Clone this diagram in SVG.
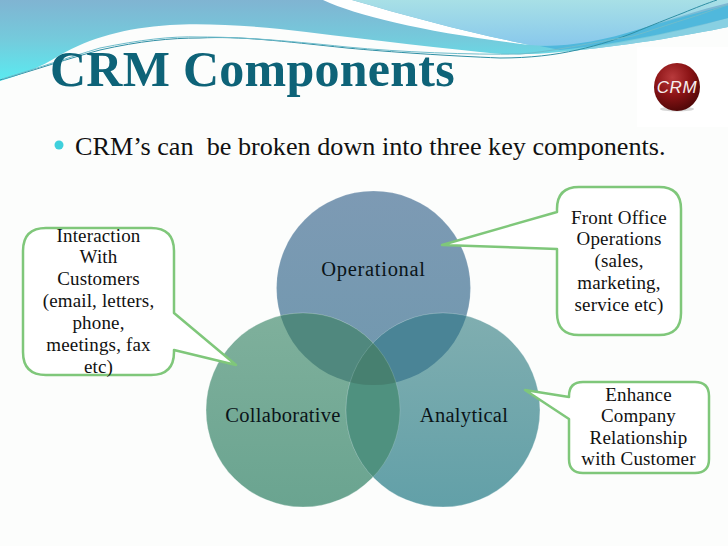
<svg xmlns="http://www.w3.org/2000/svg" width="728" height="546" viewBox="0 0 728 546">
<style>
.t{font-family:"Liberation Serif",serif}
.c{font-family:"Liberation Serif",serif;font-size:19px;fill:#111;text-anchor:middle;letter-spacing:.15px}
.l{font-size:20.5px;fill:#0a1418;letter-spacing:.3px}
.b{fill:#fff;stroke:#7fc77a;stroke-width:2.5;stroke-linejoin:round}
.o{fill:none;stroke:#fff;stroke-opacity:.15;stroke-width:1}
</style>
<defs>
<linearGradient id="w1" gradientUnits="userSpaceOnUse" x1="0" y1="0" x2="0" y2="80"><stop offset="0" stop-color="#80b4d2"/><stop offset=".5" stop-color="#74cbdc"/><stop offset="1" stop-color="#5aeaf0"/></linearGradient>
<linearGradient id="w2" gradientUnits="userSpaceOnUse" x1="560" y1="0" x2="560" y2="46"><stop offset="0" stop-color="#a8e0e6"/><stop offset="1" stop-color="#88c8ec"/></linearGradient>
<linearGradient id="o1" x1="0" y1="0" x2="0" y2="1"><stop offset="0" stop-color="#7d9ab4"/><stop offset="1" stop-color="#7098ae"/></linearGradient>
<linearGradient id="o2" x1="0" y1="0" x2="0" y2="1"><stop offset="0" stop-color="#7fb09c"/><stop offset="1" stop-color="#6aa490"/></linearGradient>
<linearGradient id="o3" x1="0" y1="0" x2="0" y2="1"><stop offset="0" stop-color="#80aeb0"/><stop offset="1" stop-color="#62a0a8"/></linearGradient>
<radialGradient id="ball" cx=".4" cy=".3" r=".75"><stop offset="0" stop-color="#b83a3c"/><stop offset=".5" stop-color="#8c1416"/><stop offset="1" stop-color="#4a0606"/></radialGradient>
<clipPath id="cOp"><circle cx="373.500" cy="288" r="97"/></clipPath>
<clipPath id="cCol"><circle cx="303" cy="410" r="97"/></clipPath>
</defs>
<rect width="728" height="546" fill="#fcfdfc"/>
<g id="header">
<path d="M0 0H728V27C690 35 620 47 560 52C530 55 505 55 480 52C420 46 350 37 280 29C240 25 200 23 170 25C125 28 90 38 60 55C40 68 20 75 0 81Z" fill="url(#w1)"/>
<path d="M560 52C620 47 690 35 728 27V18C680 32 620 44 560 52Z" fill="#88d0e2"/>
<path d="M540 46C590 45 650 25 728 5V18C670 33 610 45 560 50Z" fill="#50b8dc"/>
<path d="M323 0C360 17 430 33 530 45C470 33 410 17 352 0Z" fill="#fff"/>
<path d="M352 0C410 17 470 33 530 45C560 48 600 42 640 29C670 19 700 10 728 3V0Z" fill="url(#w2)"/>
<path d="M0 80C35 70 70 58 100 50C140 41 170 38 200 38C240 36 280 41 347 48C390 52 450 56 500 58C530 58 555 55 577 50C600 45 620 38 633 33C650 26 670 18 683 13C695 8 708 3 717 0" fill="none" stroke="#2f8fa4" stroke-width="1"/>
<path d="M2 79C35 69 70 57 100 48C140 40 170 36 200 37C240 37 280 40 347 47C400 52 470 55 520 54C550 52 590 43 633 36C650 31 670 24 683 20C700 15 715 9 728 5" fill="none" stroke="#6fbccb" stroke-width="1"/>
</g>
<rect x="637" y="47" width="91" height="80" fill="#fff"/>
<g id="title">
<text class="t" x="50" y="86" font-size="50" font-weight="700" fill="#0e6378" letter-spacing=".25">CRM Components</text>
</g>
<g id="intro">
<circle cx="59" cy="145" r="4.500" fill="#3fd0dc"/>
<text class="t" x="75" y="155" font-size="26.200" fill="#111" style="white-space:pre">CRM’s can  be broken down into three key components.</text>
</g>
<g id="logo">
<ellipse cx="677" cy="109" rx="17" ry="2.500" fill="#999" opacity=".4"/>
<ellipse cx="677" cy="87" rx="23" ry="24" fill="url(#ball)"/>
<text x="677" y="92.500" font-family="Liberation Sans,sans-serif" font-size="17" font-style="italic" fill="#f6eeee" text-anchor="middle" letter-spacing=".6">CRM</text>
</g>
<g id="operational">
<circle cx="373.500" cy="288" r="97" fill="url(#o1)"/>
<circle class="o" cx="373.500" cy="288" r="97"/>
<text class="c l" x="373.500" y="276" style="letter-spacing:.7px">Operational</text>
</g>
<g id="collaborative">
<circle cx="303" cy="410" r="97" fill="url(#o2)"/>
<circle class="o" cx="303" cy="410" r="97"/>
</g>
<g id="analytical">
<circle cx="443" cy="410" r="97" fill="url(#o3)"/>
<circle class="o" cx="443" cy="410" r="97"/>
</g>
<g id="overlaps">
<g clip-path="url(#cOp)"><circle cx="303" cy="410" r="97" fill="#50887e"/><circle cx="443" cy="410" r="97" fill="#4a8496"/></g>
<g clip-path="url(#cCol)"><circle cx="443" cy="410" r="97" fill="#4f917f"/></g>
<g clip-path="url(#cOp)"><g clip-path="url(#cCol)"><circle cx="443" cy="410" r="97" fill="#478070"/></g></g>
<circle class="o" cx="303" cy="410" r="97"/><circle class="o" cx="443" cy="410" r="97"/>
</g>
<g id="labels">
<text class="c l" x="283" y="422">Collaborative</text>
<text class="c l" x="464" y="422">Analytical</text>
</g>
<g id="note-front">
<path class="b" d="M579 187H659Q681 187 681 209V313Q681 335 659 335H579Q557 335 557 313V249L442 245L557 212V209Q557 187 579 187Z"/>
<g class="c"><text x="619" y="224">Front Office</text><text x="619" y="245">Operations</text><text x="619" y="267">(sales,</text><text x="619" y="289">marketing,</text><text x="619" y="311">service etc)</text></g>
</g>
<g id="note-enhance">
<path class="b" d="M583 382H695Q709 382 709 396V459Q709 473 695 473H583Q569 473 569 459V419L525 390L569 397V396Q569 382 583 382Z"/>
<g class="c"><text x="638.500" y="401">Enhance</text><text x="638.500" y="422">Company</text><text x="638.500" y="444">Relationship</text><text x="638.500" y="465">with Customer</text></g>
</g>
<g id="note-interaction">
<path class="b" d="M46 228H151Q174 228 174 251V313L236 365L174 350V352Q174 375 151 375H46Q23 375 23 352V251Q23 228 46 228Z"/>
<g class="c"><text x="98.500" y="242">Interaction</text><text x="98.500" y="263">With</text><text x="98.500" y="285">Customers</text><text x="98.500" y="307">(email, letters,</text><text x="98.500" y="329">phone,</text><text x="98.500" y="351">meetings, fax</text><text x="98.500" y="373">etc)</text></g>
</g>
</svg>
